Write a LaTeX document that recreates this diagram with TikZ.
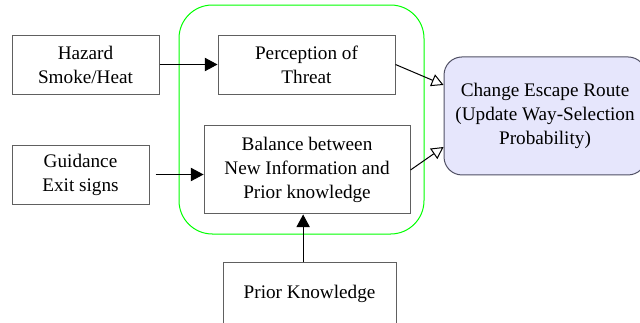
\documentclass[tikz,border=0pt]{standalone}
\usepackage{fontspec}
\setmainfont{LiberationSerif-Regular.ttf}
\usetikzlibrary{arrows.meta,positioning}
\definecolor{boxgray}{RGB}{96,96,96}
\definecolor{routefill}{RGB}{230,230,252}
\definecolor{routegray}{RGB}{80,80,100}
\tikzset{
  basic/.style  = {draw=boxgray, line width=0.75pt, rectangle, align=center,
                   font=\Large, inner sep=0pt},
  cue/.style    = {basic, minimum height=44.25pt},
  step box/.style = {basic, minimum height=44.25pt},
  route/.style  = {basic, draw=routegray, fill=routefill, rounded corners=13.5pt,
                   minimum width=151.5pt, minimum height=88.5pt},
  group/.style  = {draw=green, line width=0.75pt, rounded corners=25pt},
  feed/.style   = {-{Triangle[length=9.5pt,width=10pt]}, line width=0.75pt},
  update/.style = {-{Triangle[open,length=9pt,width=9.5pt]}, line width=0.75pt}
}

\begin{document}
\begin{tikzpicture}[x=0.75pt,y=-0.75pt]
\useasboundingbox (0,0) rectangle (640,322);

% decision group
\draw[group] (179,5) rectangle (424,234);

% inputs and inner steps
\node[cue, minimum width=110.25pt] (hazard) at (85.5,64.5) {Hazard\\Smoke/Heat};
\node[step box, minimum width=132.75pt, right of = hazard, node distance=165.75pt] (threat) {Perception of\\Threat};
\node[basic, minimum width=154.5pt, minimum height=66pt, below of = threat, node distance=79.1pt, xshift=0.4pt] (balance) {Balance between\\New Information and\\Prior knowledge};
\node[cue, minimum width=102.75pt, left of = balance, node distance=169.9pt, yshift=-3.4pt] (guidance) {Guidance\\Exit signs};
\node[cue, minimum width=129.75pt, minimum height=46.5pt, below of = balance, node distance=93pt, xshift=1.9pt] (prior) {Prior Knowledge};

% result
\node[route, right of = threat, node distance=178.9pt, yshift=-38.6pt] (route) {Change Escape Route\\(Update Way-Selection\\Probability)};

\draw[feed] (hazard.east) -- (threat.west);
\draw[feed, shorten <=4.5pt] (guidance.east) -- (guidance.east -| balance.west);
\draw[feed] (prior.north -| balance.265) -- (balance.265);
\draw[update] (threat.east) -- (route.163);
\draw[update] (balance.east) -- (route.197);
\end{tikzpicture}
\end{document}
